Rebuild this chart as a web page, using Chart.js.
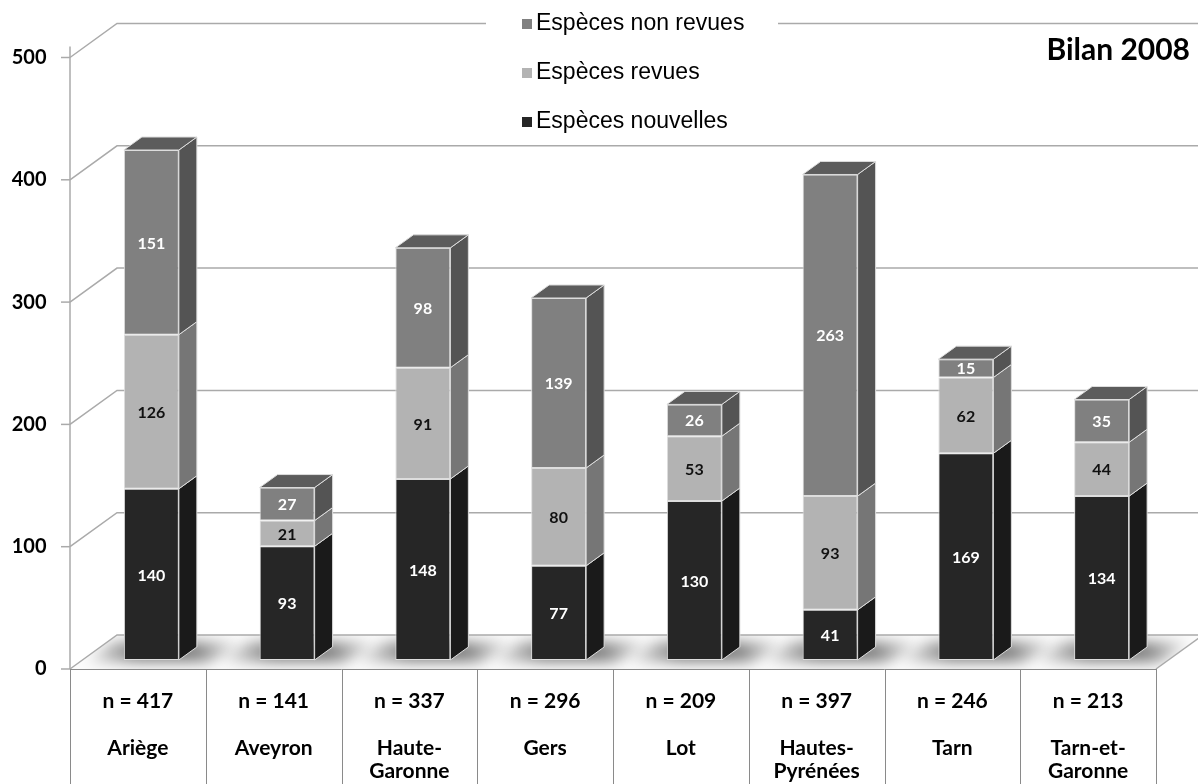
<!DOCTYPE html>
<html>
<head>
<meta charset="utf-8">
<title>Bilan 2008</title>
<script src="https://cdn.jsdelivr.net/npm/chart.js@4/dist/chart.umd.min.js"></script>
<style>
  html, body { margin: 0; padding: 0; background: #ffffff; }
  #wrap { width: 1198px; height: 784px; position: relative; }
</style>
</head>
<body>
<div id="wrap"><canvas id="chart"></canvas></div>
<script>
// Départements and their label lines under the axis
const departements = ['Ariège', 'Aveyron', 'Haute-Garonne', 'Gers', 'Lot', 'Hautes-Pyrénées', 'Tarn', 'Tarn-et-Garonne'];
const departementLines = [['Ariège'], ['Aveyron'], ['Haute-', 'Garonne'], ['Gers'], ['Lot'], ['Hautes-', 'Pyrénées'], ['Tarn'], ['Tarn-et-', 'Garonne']];

// Species counts per département (stacked bottom to top)
const especesNouvelles = [140, 93, 148, 77, 130, 41, 169, 134];
const especesRevues    = [126, 21, 91, 80, 53, 93, 62, 44];
const especesNonRevues = [151, 27, 98, 139, 26, 263, 15, 35];

// Value axis ticks
const yTicks = [0, 100, 200, 300, 400, 500];

const seriesNames = ['Espèces nouvelles', 'Espèces revues', 'Espèces non revues'];
const totals = departements.map((_, i) => especesNouvelles[i] + especesRevues[i] + especesNonRevues[i]);

// Face colours per series: front, side, top, label
const faceFront = ['#262626', '#b3b3b3', '#808080'];
const faceSide  = ['#1a1a1a', '#767676', '#545454'];
const faceTop   = ['#3a3a3a', '#8e8e8e', '#5c5c5c'];
const labelInk  = ['#ffffff', '#111111', '#ffffff'];

// 3D geometry
const BAR_DEPTH = { dx: 18, dy: -13 };
const WALL_DEPTH = { dx: 47, dy: -34 };
const FRONT_DROP = 9;      // front plane sits below the bar baseline
const BAR_SHIFT = 13.5;    // bars sit in depth, to the right of their column

const scene3d = {
  id: 'scene3d',
  beforeDatasetsDraw(chart) {
    const { ctx, chartArea, scales } = chart;
    const y = scales.y;
    const axisX = chartArea.left - BAR_SHIFT;
    const colW = (chartArea.right - chartArea.left) / departements.length;
    const tableRight = axisX + colW * departements.length;
    const floorFront = y.getPixelForValue(0) + FRONT_DROP;

    ctx.save();
    // floor
    ctx.beginPath();
    ctx.moveTo(axisX, floorFront);
    ctx.lineTo(axisX + WALL_DEPTH.dx, floorFront + WALL_DEPTH.dy);
    ctx.lineTo(tableRight + WALL_DEPTH.dx, floorFront + WALL_DEPTH.dy);
    ctx.lineTo(tableRight, floorFront);
    ctx.closePath();
    ctx.fillStyle = '#fcfcfc';
    ctx.fill();

    // soft shadows around each bar base
    ctx.save();
    ctx.clip();
    ctx.filter = 'blur(7px)';
    const base = chart.getDatasetMeta(0).data;
    base.forEach(el => {
      const p = el.getProps(['x', 'width', 'base'], true);
      const l = p.x - p.width / 2, r = p.x + p.width / 2;
      const grad = ctx.createLinearGradient(l - 45, 0, r + 65, 0);
      grad.addColorStop(0, 'rgba(0,0,0,0)');
      grad.addColorStop(0.35, 'rgba(0,0,0,0.5)');
      grad.addColorStop(0.7, 'rgba(0,0,0,0.5)');
      grad.addColorStop(1, 'rgba(0,0,0,0)');
      ctx.fillStyle = grad;
      ctx.beginPath();
      ctx.moveTo(l - 40, p.base + 2);
      ctx.lineTo(r + 30, p.base + 2);
      ctx.lineTo(r + 65, p.base - 18);
      ctx.lineTo(l - 10, p.base - 18);
      ctx.closePath();
      ctx.fill();
    });
    ctx.restore();

    // back-wall gridlines with their diagonal lead-in
    ctx.strokeStyle = '#aaaaaa';
    ctx.lineWidth = 1.5;
    yTicks.forEach(v => {
      const yf = y.getPixelForValue(v) + FRONT_DROP;
      ctx.beginPath();
      ctx.moveTo(axisX, yf);
      ctx.lineTo(axisX + WALL_DEPTH.dx, yf + WALL_DEPTH.dy);
      ctx.lineTo(chart.width, yf + WALL_DEPTH.dy);
      ctx.stroke();
      // tick mark
      ctx.beginPath();
      ctx.moveTo(axisX - 9, yf);
      ctx.lineTo(axisX, yf);
      ctx.stroke();
    });
    // floor right edge
    ctx.beginPath();
    ctx.moveTo(tableRight, floorFront);
    ctx.lineTo(tableRight + WALL_DEPTH.dx, floorFront + WALL_DEPTH.dy);
    ctx.stroke();

    // front value axis
    ctx.beginPath();
    ctx.moveTo(axisX, y.getPixelForValue(500) + FRONT_DROP - 11);
    ctx.lineTo(axisX, floorFront);
    ctx.stroke();

    // category table below the floor
    ctx.strokeStyle = '#8a8a8a';
    ctx.lineWidth = 1;
    ctx.beginPath();
    ctx.moveTo(axisX, floorFront + 0.5);
    ctx.lineTo(tableRight, floorFront + 0.5);
    for (let i = 0; i <= departements.length; i++) {
      const cx = Math.round(axisX + colW * i) + 0.5;
      ctx.moveTo(cx, floorFront);
      ctx.lineTo(cx, chart.height);
    }
    ctx.stroke();
    ctx.restore();
  },
  afterDatasetsDraw(chart) {
    const { ctx } = chart;
    const metas = [0, 1, 2].map(d => chart.getDatasetMeta(d));
    const values = [especesNouvelles, especesRevues, especesNonRevues];
    ctx.save();
    ctx.lineWidth = 1;
    ctx.strokeStyle = '#dddddd';
    metas.forEach((meta, d) => {
      meta.data.forEach((el, i) => {
        if (!values[d][i]) return;
        const p = el.getProps(['x', 'y', 'base', 'width'], true);
        const l = p.x - p.width / 2, r = p.x + p.width / 2;
        const top = Math.min(p.y, p.base), bottom = Math.max(p.y, p.base);
        // side face
        ctx.beginPath();
        ctx.moveTo(r, top);
        ctx.lineTo(r + BAR_DEPTH.dx, top + BAR_DEPTH.dy);
        ctx.lineTo(r + BAR_DEPTH.dx, bottom + BAR_DEPTH.dy);
        ctx.lineTo(r, bottom);
        ctx.closePath();
        ctx.fillStyle = faceSide[d];
        ctx.fill();
        ctx.stroke();
        // top face on the highest segment
        const isTop = values.slice(d + 1).every(s => !s[i]);
        if (isTop) {
          ctx.beginPath();
          ctx.moveTo(l, top);
          ctx.lineTo(l + BAR_DEPTH.dx, top + BAR_DEPTH.dy);
          ctx.lineTo(r + BAR_DEPTH.dx, top + BAR_DEPTH.dy);
          ctx.lineTo(r, top);
          ctx.closePath();
          ctx.fillStyle = faceTop[d];
          ctx.fill();
          ctx.stroke();
        }
      });
    });
    // value labels on the front faces
    ctx.font = 'bold 16px Lato, "Open Sans", sans-serif';
    ctx.textAlign = 'center';
    ctx.textBaseline = 'middle';
    metas.forEach((meta, d) => {
      meta.data.forEach((el, i) => {
        const v = values[d][i];
        if (!v) return;
        const p = el.getProps(['x', 'y', 'base'], true);
        ctx.fillStyle = labelInk[d];
        ctx.fillText(String(v), p.x, (p.y + p.base) / 2 + 1);
      });
    });
    ctx.restore();
  },
  afterDraw(chart) {
    const { ctx } = chart;
    ctx.save();
    // legend panel
    ctx.fillStyle = '#ffffff';
    ctx.fillRect(486, 0, 292, 138);
    const rows = [
      { name: seriesNames[2], color: faceFront[2], y: 24 },
      { name: seriesNames[1], color: faceFront[1], y: 73 },
      { name: seriesNames[0], color: faceFront[0], y: 122 }
    ];
    ctx.font = '23px "Liberation Sans", Arial, sans-serif';
    ctx.textBaseline = 'middle';
    ctx.textAlign = 'left';
    rows.forEach(r => {
      ctx.fillStyle = r.color;
      ctx.fillRect(522, r.y - 5, 10, 10);
      ctx.fillStyle = '#000000';
      ctx.fillText(r.name, 536, r.y);
    });
    // title
    ctx.font = 'bold 30px Lato, "Open Sans", sans-serif';
    ctx.textAlign = 'right';
    ctx.fillStyle = '#000000';
    ctx.fillText('Bilan 2008', 1190, 50);
    ctx.restore();
  }
};

new Chart(document.getElementById('chart'), {
  type: 'bar',
  data: {
    labels: departements,
    datasets: [
      { label: seriesNames[0], data: especesNouvelles, backgroundColor: faceFront[0] },
      { label: seriesNames[1], data: especesRevues, backgroundColor: faceFront[1] },
      { label: seriesNames[2], data: especesNonRevues, backgroundColor: faceFront[2] }
    ].map(ds => Object.assign(ds, {
      borderColor: '#dddddd',
      borderWidth: 1,
      borderSkipped: false,
      categoryPercentage: 1,
      barPercentage: 0.405
    }))
  },
  options: {
    responsive: true,
    maintainAspectRatio: false,
    animation: false,
    layout: { padding: { top: 48.5, right: 28.5, left: 0, bottom: 0 } },
    plugins: { legend: { display: false }, tooltip: { enabled: false } },
    scales: {
      x: {
        stacked: true,
        grid: { display: false },
        border: { display: false },
        afterFit(scale) { scale.height = 124; },
        ticks: {
          autoSkip: false,
          maxRotation: 0,
          minRotation: 0,
          padding: 21,
          labelOffset: -BAR_SHIFT,
          color: '#000000',
          font: { family: 'Lato, "Open Sans", sans-serif', size: 21, weight: 'bold', lineHeight: '23.5px' },
          callback: (value, i) => ['n = ' + totals[i], '', ...departementLines[i]]
        }
      },
      y: {
        stacked: true,
        min: 0,
        max: 500,
        grid: { display: false },
        border: { display: false },
        afterFit(scale) { scale.width = 83.5; },
        afterBuildTicks(scale) { scale.ticks = yTicks.map(v => ({ value: v })); },
        ticks: {
          padding: 29,
          labelOffset: FRONT_DROP,
          color: '#000000',
          font: { family: 'Lato, "Open Sans", sans-serif', size: 20, weight: 'bold' }
        }
      }
    }
  },
  plugins: [scene3d]
});
</script>
</body>
</html>
